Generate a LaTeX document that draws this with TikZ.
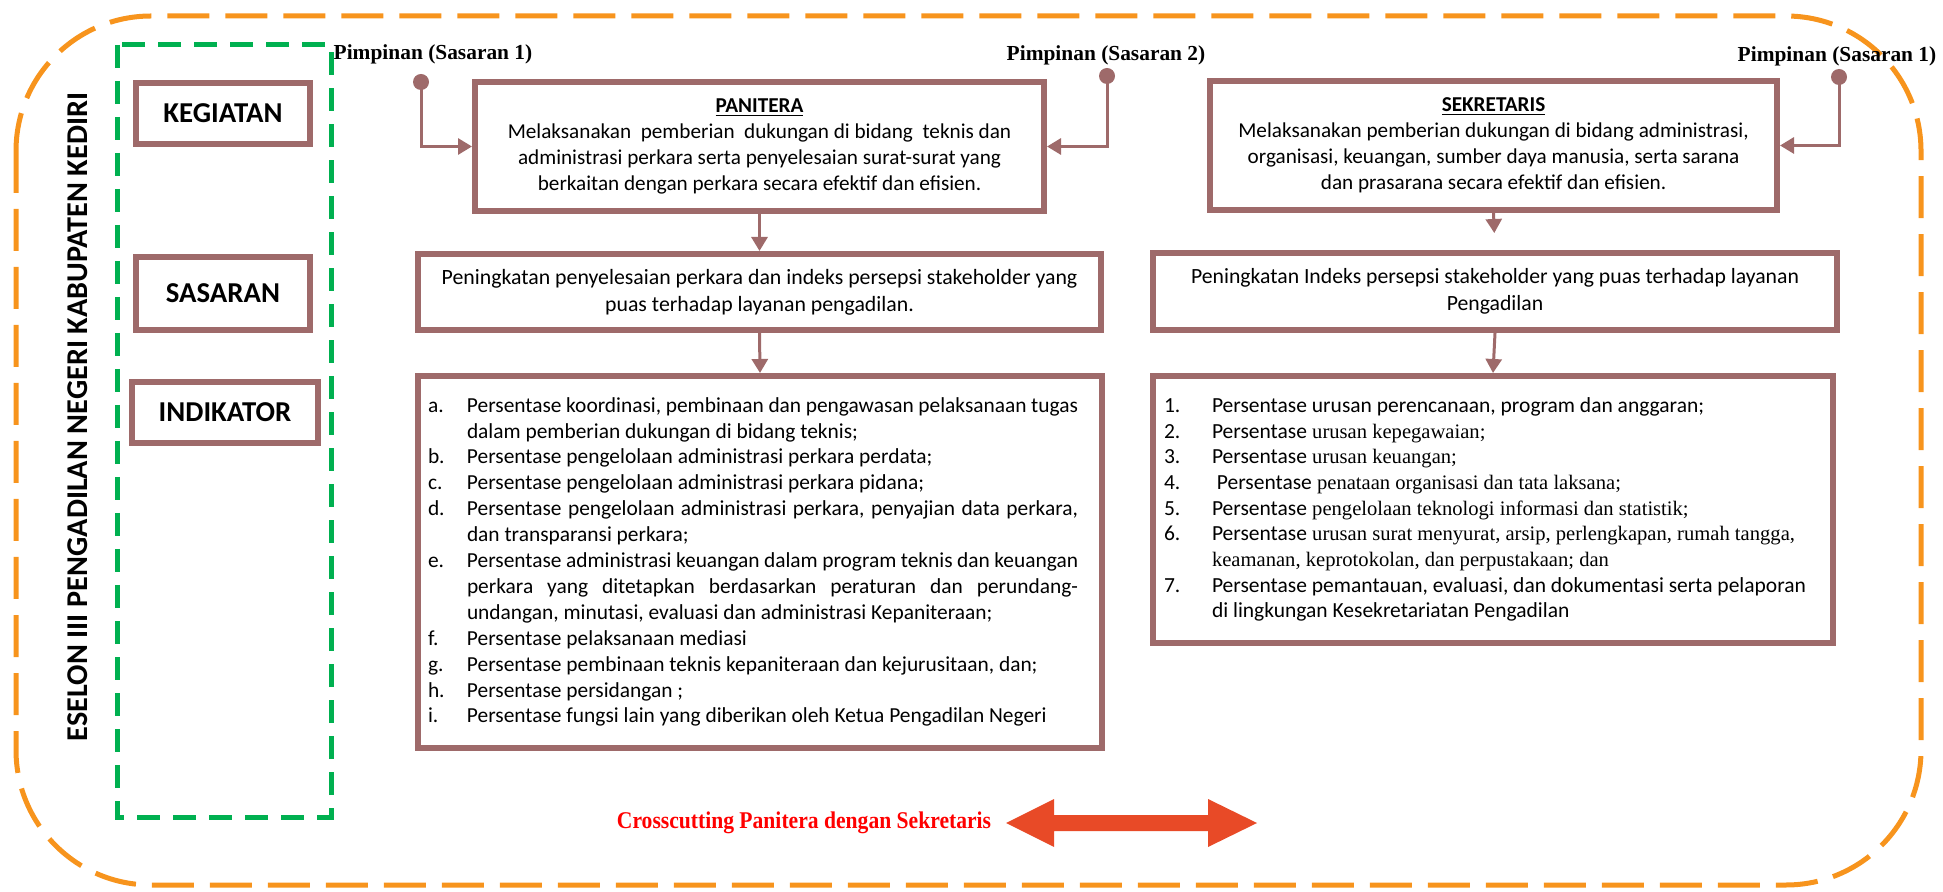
\documentclass[tikz,border=0pt]{standalone}
\usepackage{fontspec}
\setmainfont{Carlito}
\newfontfamily\tnr{Liberation Serif}
\newfontfamily\tnrc{Liberation Serif}[FakeStretch=0.9]
\usetikzlibrary{arrows.meta}
\definecolor{brn}{RGB}{158,106,106}
\definecolor{orng}{RGB}{247,148,29}
\definecolor{grn}{RGB}{0,176,80}
\definecolor{redarrow}{RGB}{232,74,39}
\newcommand{\fs}[2]{\fontsize{#1}{#2}\selectfont}
\newcommand{\litem}[2]{\par\hangindent=19.5pt\hangafter=1\noindent\makebox[19.5pt][l]{#1}#2}
\newcommand{\ritem}[2]{\par\hangindent=24pt\hangafter=1\noindent\makebox[24pt][l]{#1}#2}
\newcommand{\tm}{\tnr\fs{10.3}{12.85}}
\begin{document}
\begin{tikzpicture}[x=0.5pt,y=-0.5pt,
  box/.style={draw=brn, line width=3pt, inner sep=0pt, font=\fs{10.6}{13}},
  lbl/.style={draw=brn, line width=3pt, inner sep=0pt, font=\bfseries\fs{14.4}{17}},
  conn/.style={draw=brn, line width=1.5pt, -{Triangle[width=8pt,length=7pt]}},
  pim/.style={font=\tnr\bfseries\fs{10.7}{13}, inner sep=0pt},
  dotc/.style={circle, fill=brn, inner sep=0pt, minimum size=8pt}
]
\useasboundingbox (0,0) rectangle (1943,892);

% outer frames
\draw[orng, line width=2.5pt, dash pattern=on 21pt off 8pt, rounded corners=67.5pt] (16,16) rectangle (1921,885);
\draw[grn, line width=2.5pt, dash pattern=on 11.5pt off 6.5pt] (117,45) rectangle (331,817);

% vertical title
\node[rotate=90, font=\bfseries\fs{15.1}{18}, inner sep=0pt] (eselon) at (78,417) {ESELON III PENGADILAN NEGERI KABUPATEN KEDIRI};

% left labels
\node[lbl, minimum width=87pt, minimum height=30.5pt] (keg) at (223,113.5) {KEGIATAN};
\node[lbl, minimum width=87pt, minimum height=36.5pt] (sas) at (223,293.5) {SASARAN};
\node[lbl, minimum width=93pt, minimum height=30.5pt] (ind) at (225,412.5) {INDIKATOR};

% main boxes
\node[box, align=center, minimum width=284.5pt, minimum height=64.5pt] (pan) at (759.5,146.5)
 {\underline{\textbf{PANITERA}}\\
  Melaksanakan\ \ pemberian\ \ dukungan di bidang\ \ teknis dan\\
  administrasi perkara serta penyelesaian surat-surat yang\\
  berkaitan dengan perkara secara efektif dan efisien.};
\node[box, align=center, minimum width=283.5pt, minimum height=64.5pt] (sek) at (1493.5,145.5)
 {\underline{\textbf{SEKRETARIS}}\\
  Melaksanakan pemberian dukungan di bidang administrasi,\\
  organisasi, keuangan, sumber daya manusia, serta sarana\\
  dan prasarana secara efektif dan efisien.};

\node[box, align=center, font=\fs{10.9}{13.4}, minimum width=341.5pt, minimum height=38pt] (sasL) at (759.5,292)
 {Peningkatan penyelesaian perkara dan indeks persepsi stakeholder yang\\
  puas terhadap layanan pengadilan.};
\node[box, align=center, font=\fs{10.85}{13.4}, minimum width=342pt, minimum height=38.5pt] (sasR) at (1495,291.5)
 {Peningkatan Indeks persepsi stakeholder yang puas terhadap layanan\\
  Pengadilan};

\node[box, minimum width=342pt, minimum height=186pt] (indL) at (760,562)
 {\begin{minipage}{325pt}\fs{10.7}{12.95}%
  \litem{a.}{Persentase koordinasi, pembinaan dan pengawasan pelaksanaan tugas\linebreak dalam pemberian dukungan di bidang teknis;}
  \litem{b.}{Persentase pengelolaan administrasi perkara perdata;}
  \litem{c.}{Persentase pengelolaan administrasi perkara pidana;}
  \litem{d.}{Persentase pengelolaan administrasi perkara, penyajian data perkara,\linebreak dan transparansi perkara;}
  \litem{e.}{Persentase administrasi keuangan dalam program teknis dan keuangan\linebreak perkara yang ditetapkan berdasarkan peraturan dan perundang-\linebreak undangan, minutasi, evaluasi dan administrasi Kepaniteraan;}
  \litem{f.}{Persentase pelaksanaan mediasi}
  \litem{g.}{Persentase pembinaan teknis kepaniteraan dan kejurusitaan, dan;}
  \litem{h.}{Persentase persidangan ;}
  \litem{i.}{Persentase fungsi lain yang diberikan oleh Ketua Pengadilan Negeri}
  \end{minipage}\hspace*{7pt}};

\node[box, minimum width=340pt, minimum height=133.5pt] (indR) at (1493,509.5)
 {\begin{minipage}{322pt}\fs{10.75}{12.85}%
  \ritem{1.}{Persentase urusan perencanaan, program dan anggaran;}
  \ritem{2.}{Persentase{\tm{} urusan kepegawaian;}}
  \ritem{3.}{Persentase{\tm{} urusan keuangan;}}
  \ritem{4.}{\ Persentase{\tm{} penataan organisasi dan tata laksana;}}
  \ritem{5.}{Persentase{\tm{} pengelolaan teknologi informasi dan statistik;}}
  \ritem{6.}{Persentase{\tm{} urusan surat menyurat, arsip, perlengkapan, rumah tangga,\newline keamanan, keprotokolan, dan perpustakaan; dan}}
  \ritem{7.}{Persentase pemantauan, evaluasi, dan dokumentasi serta pelaporan\newline di lingkungan Kesekretariatan Pengadilan}
  \end{minipage}\hspace*{7pt}};

% pimpinan labels and dots
\node[pim] (pim1) at (433,54) {Pimpinan (Sasaran 1)};
\node[pim] (pim2) at (1106,55) {Pimpinan (Sasaran 2)};
\node[pim] (pim3) at (1837,56) {Pimpinan (Sasaran 1)};
\node[dotc] (d1) at (421,82) {};
\node[dotc] (d2) at (1107,76) {};
\node[dotc] (d3) at (1839,77) {};

% connectors
\draw[conn] (d1.center) |- (pan.west);
\draw[conn] (d2.center) |- (pan.east);
\draw[conn] (d3.center) |- (sek.east);
\draw[conn] (pan.south) -- (sasL.north);
\draw[conn, shorten >=8.5pt] (sek.south) -- (sasR.north);
\draw[conn] (sasL.south) -- (indL.north);
\draw[conn] (sasR.south) -- (indR.north);

% crosscutting
\node[font=\tnrc\bfseries\fs{12}{14}, text=red, inner sep=0pt] (cc) at (804,823) {Crosscutting Panitera dengan Sekretaris};
\fill[redarrow] (1006,823) -- (1054,799) -- (1054,815) -- (1208,815) -- (1208,799) -- (1257,823)
  -- (1208,847) -- (1208,831) -- (1054,831) -- (1054,847) -- cycle;
\end{tikzpicture}
\end{document}
